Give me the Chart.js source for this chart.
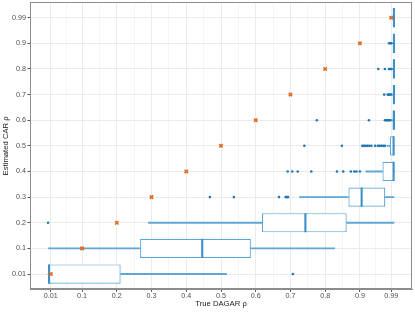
<!DOCTYPE html>
<html>
<head>
<meta charset="utf-8">
<script src="https://cdn.jsdelivr.net/npm/chart.js@4.4.1/dist/chart.umd.min.js"></script>
<style>
  html, body { margin: 0; padding: 0; background: #fff; }
</style>
</head>
<body>
<canvas id="chart" width="415" height="312"></canvas>
<script>
// estimated CAR rho levels (rows) and the true DAGAR rho at each level
const categories = ["0.01", "0.1", "0.2", "0.3", "0.4", "0.5", "0.6", "0.7", "0.8", "0.9", "0.99"];
const trueRho = [0.01, 0.1, 0.2, 0.3, 0.4, 0.5, 0.6, 0.7, 0.8, 0.9, 0.99];

// box plot stats per row
const whiskerLow = [0.002, 0.003, 0.291, 0.726, 0.917, 0.978, 0.99, 0.992, 0.993, 0.993, 0.994];
const q1 = [0.002, 0.267, 0.618, 0.867, 0.965, 0.986, 0.994, 0.995, 0.995, 0.995, 0.995];
const median = [0.005, 0.446, 0.743, 0.905, 0.997, 0.997, 0.998, 0.998, 0.998, 0.998, 0.998];
const q3 = [0.211, 0.586, 0.862, 0.973, 0.999, 0.999, 0.999, 0.999, 0.999, 0.999, 0.999];
const whiskerHigh = [0.516, 0.827, 0.998, 0.998, 0.999, 0.999, 0.999, 0.999, 0.999, 0.999, 0.999];

const outliers = [
  [0.707],
  [],
  [0.002],
  [0.468, 0.537, 0.667, 0.686, 0.69, 0.693],
  [0.692, 0.705, 0.721, 0.76, 0.834, 0.852, 0.874, 0.884, 0.89, 0.9],
  [0.74, 0.848, 0.907, 0.912, 0.917, 0.922, 0.927, 0.933, 0.944, 0.952, 0.957, 0.962, 0.967, 0.972],
  [0.776, 0.926, 0.972, 0.975, 0.978, 0.981, 0.984, 0.987],
  [0.97, 0.98, 0.983, 0.986, 0.989],
  [0.953, 0.972, 0.984, 0.987, 0.99],
  [0.984, 0.987, 0.99],
  []
];

const xMajor = [0.01, 0.1, 0.2, 0.3, 0.4, 0.5, 0.6, 0.7, 0.8, 0.9, 0.99];
const xMinor = [0.055, 0.15, 0.25, 0.35, 0.45, 0.55, 0.65, 0.75, 0.85, 0.945];

const boxLine = "#5ea6d6";
const fontFam = "'Liberation Sans', Arial, sans-serif";

function isMajor(v) {
  return xMajor.some(m => Math.abs(m - v) < 1e-6);
}

const outlierPts = [];
outliers.forEach((row, i) => row.forEach(v => outlierPts.push({ x: v, y: i })));

// panel border on top and right
const panelBorder = {
  id: "panelBorder",
  afterDraw(chart) {
    const a = chart.chartArea;
    const ctx = chart.ctx;
    ctx.save();
    ctx.strokeStyle = "#8c8c8c";
    ctx.lineWidth = 1;
    ctx.strokeRect(Math.round(a.left) + 0.5, Math.round(a.top) + 0.5,
      Math.round(a.right - a.left) - 1, Math.round(a.bottom - a.top) - 1);
    ctx.restore();
  }
};

new Chart(document.getElementById("chart"), {
  type: "bar",
  data: {
    datasets: [
      {
        type: "scatter",
        data: trueRho.map((v, i) => ({ x: v, y: i })),
        pointStyle: "crossRot",
        pointRadius: 2.4,
        borderColor: "#e0691f",
        borderWidth: 1.6,
        order: 0
      },
      {
        type: "scatter",
        data: outlierPts,
        pointRadius: 1.3,
        backgroundColor: "#1f78b4",
        borderWidth: 0,
        order: 1
      },
      {
        data: categories.map((c, i) => ({ y: i, x: [median[i] - 0.003, median[i] + 0.003] })),
        grouped: false,
        barPercentage: 0.75,
        categoryPercentage: 1,
        backgroundColor: "#3d8fc8",
        borderWidth: 0,
        order: 2
      },
      {
        data: categories.map((c, i) => ({ y: i, x: [q1[i], q3[i]] })),
        grouped: false,
        barPercentage: 0.75,
        categoryPercentage: 1,
        backgroundColor: "#ffffff",
        borderColor: boxLine,
        borderWidth: 1.2,
        borderSkipped: false,
        order: 3
      },
      {
        data: categories.map((c, i) => ({ y: i, x: [whiskerLow[i], q1[i]] })),
        grouped: false,
        barThickness: 1.2,
        backgroundColor: boxLine,
        borderWidth: 0,
        order: 4
      },
      {
        data: categories.map((c, i) => ({ y: i, x: [q3[i], whiskerHigh[i]] })),
        grouped: false,
        barThickness: 1.2,
        backgroundColor: boxLine,
        borderWidth: 0,
        order: 5
      }
    ]
  },
  options: {
    responsive: false,
    animation: false,
    devicePixelRatio: 1,
    indexAxis: "y",
    layout: { autoPadding: false, padding: { top: 2.3, right: 3, left: 0, bottom: 0 } },
    plugins: { legend: { display: false }, tooltip: { enabled: false } },
    scales: {
      x: {
        type: "linear",
        min: -0.05,
        max: 1.05,
        afterBuildTicks: s => { s.ticks = xMajor.concat(xMinor).sort((a, b) => a - b).map(v => ({ value: v })); },
        afterFit: s => { s.height = 22.6; s.paddingLeft = 0; s.paddingRight = 0; },
        ticks: {
          autoSkip: false,
          maxRotation: 0,
          padding: 0,
          color: "#4d4d4d",
          font: { family: fontFam, size: 7.2 },
          callback: v => isMajor(v) ? String(v) : ""
        },
        grid: {
          color: ctx => isMajor(ctx.tick.value) ? "#ebebeb" : "#f5f5f5",
          tickColor: ctx => isMajor(ctx.tick.value) ? "#555555" : "rgba(0,0,0,0)",
          tickLength: 2.5
        },
        border: { display: true, color: "#8c8c8c", width: 1 },
        title: {
          display: true,
          text: "True DAGAR ρ",
          color: "#1a1a1a",
          font: { family: fontFam, size: 7.7 },
          padding: { top: 0, bottom: 3 }
        }
      },
      y: {
        type: "linear",
        min: -0.6,
        max: 10.6,
        offset: false,
        afterBuildTicks: s => { s.ticks = categories.map((c, i) => ({ value: i })); },
        afterFit: s => { s.width = 30; s.paddingTop = 0; s.paddingBottom = 0; },
        ticks: {
          autoSkip: false,
          padding: 1.5,
          color: "#4d4d4d",
          font: { family: fontFam, size: 7.2 },
          callback: v => categories[v]
        },
        grid: { offset: false, color: "#ebebeb", tickColor: "#555555", tickLength: 2.5 },
        border: { display: true, color: "#8c8c8c", width: 1 },
        title: {
          display: true,
          text: "Estimated CAR ρ",
          color: "#1a1a1a",
          font: { family: fontFam, size: 7.7 },
          padding: { top: 1.5, bottom: 0 }
        }
      }
    }
  },
  plugins: [panelBorder]
});
</script>
</body>
</html>
